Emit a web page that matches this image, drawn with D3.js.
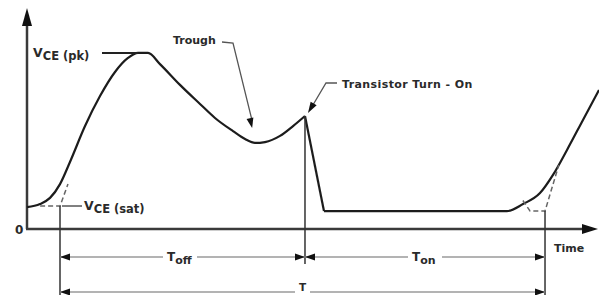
<!DOCTYPE html>
<html>
<head>
<meta charset="utf-8">
<script src="https://cdn.jsdelivr.net/npm/d3@7/dist/d3.min.js"></script>
<style>
  body { margin: 0; background: #fff; }
  svg text { font-family: "DejaVu Sans", sans-serif; fill: #2a2a2a; font-weight: bold; }
</style>
</head>
<body>
<div id="chart"></div>
<script>
// Switching waveform: V_CE versus time (time units 0..100, voltage units 0..100)

// turn-off phase: rise to peak, trough, up to turn-on
const offPhase = [
  [0, 10.0], [2.28, 11.4], [4.04, 14.2], [5.79, 20.5], [7.54, 30.6],
  [10.18, 47.0], [12.81, 60.7], [15.44, 71.7], [17.72, 78.1], [19.47, 80.4],
  [21.23, 80.4], [23.33, 75.3], [26.84, 65.8], [30.35, 57.1], [32.98, 50.7],
  [36.14, 44.7], [38.25, 41.1], [40.0, 39.3], [41.75, 39.7], [44.39, 42.5],
  [46.67, 47.0], [48.77, 51.6]
];
// sharp drop at transistor turn-on
const turnOnDrop = [[48.77, 51.6], [52.1, 8.2]];
// on phase (flat) and start of next turn-off
const onPhase = [
  [52.1, 8.2], [84.21, 8.2], [87.02, 11.4], [90.0, 16.4], [92.28, 24.7],
  [94.74, 36.1], [97.54, 49.8], [100.35, 63.5]
];
// dashed tangent construction lines
const tangentLeft = [[2.3, 10.5], [5.79, 10.5], [7.19, 20.5]];
const tangentRight = [[87.0, 13.0], [88.25, 8.2], [90.88, 8.2], [93.3, 29.2]];

const vPk = 80.4;
const vSat = 10.5;
const tOffStart = 5.79;
const tTurnOn = 48.77;
const tPeriodEnd = 90.88;

const width = 599, height = 295;
const svg = d3.select("#chart").append("svg")
  .attr("width", width).attr("height", height);

const x = d3.scaleLinear().domain([0, 100]).range([27, 597]);
const y = d3.scaleLinear().domain([0, 100]).range([229, 10]);

const axisColor = "#3a3a3a";
const dimColor = "#9a9a9a";

function arrowHead(g, tx, ty, angle, len, half, color) {
  // angle in degrees, direction the arrow points to
  g.append("path")
    .attr("d", `M0,0 L${-len},${-half} L${-len},${half} Z`)
    .attr("transform", `translate(${tx},${ty}) rotate(${angle})`)
    .attr("fill", color || "#111");
}

// axes
svg.append("line")
  .attr("x1", x(0)).attr("x2", x(0))
  .attr("y1", y(0)).attr("y2", 24)
  .attr("stroke", axisColor).attr("stroke-width", 2.5);
arrowHead(svg, x(0), 8, -90, 18, 5, "#111");

svg.append("line")
  .attr("x1", x(0) - 1).attr("x2", 586)
  .attr("y1", y(0)).attr("y2", y(0))
  .attr("stroke", axisColor).attr("stroke-width", 2.5);
arrowHead(svg, 598, y(0), 0, 16, 5, "#111");

svg.append("text")
  .attr("x", 15).attr("y", y(0) + 5)
  .attr("font-size", 12)
  .text("0");

svg.append("text")
  .attr("x", 554).attr("y", 252)
  .attr("font-size", 11)
  .text("Time");

// waveform
const smooth = d3.line().x(d => x(d[0])).y(d => y(d[1])).curve(d3.curveMonotoneX);
const straight = d3.line().x(d => x(d[0])).y(d => y(d[1]));

[[offPhase, smooth], [turnOnDrop, straight], [onPhase, smooth]].forEach(([pts, gen]) => {
  svg.append("path")
    .attr("d", gen(pts))
    .attr("fill", "none")
    .attr("stroke", "#1c1c1c")
    .attr("stroke-width", 2.2)
    .attr("stroke-linejoin", "round");
});

// dashed tangents
[tangentLeft, tangentRight].forEach(pts => {
  svg.append("path")
    .attr("d", straight(pts))
    .attr("fill", "none")
    .attr("stroke", "#666")
    .attr("stroke-width", 1.5)
    .attr("stroke-dasharray", "5,3");
});

// extension lines
const ext = [
  { t: tOffStart, v: vSat, bottom: 295 },
  { t: tTurnOn, v: turnOnDrop[0][1], bottom: 264 },
  { t: tPeriodEnd, v: onPhase[0][1], bottom: 295 }
];
ext.forEach(e => {
  svg.append("line")
    .attr("x1", x(e.t)).attr("x2", x(e.t))
    .attr("y1", y(e.v)).attr("y2", e.bottom)
    .attr("stroke", "#333").attr("stroke-width", 1.5);
});

// level labels with leaders
svg.append("line")
  .attr("x1", 102).attr("x2", x(19.47))
  .attr("y1", y(vPk)).attr("y2", y(vPk))
  .attr("stroke", "#222").attr("stroke-width", 2);

function vceLabel(tx, ty, suffix) {
  const t = svg.append("text").attr("x", tx).attr("y", ty).attr("font-size", 12.5);
  t.append("tspan").text("V");
  t.append("tspan").attr("dy", 3).attr("font-size", 11.5).text("CE " + suffix);
}
vceLabel(33, 57, "(pk)");

svg.append("line")
  .attr("x1", x(tOffStart) + 2).attr("x2", 82)
  .attr("y1", y(vSat)).attr("y2", y(vSat))
  .attr("stroke", "#555").attr("stroke-width", 1.5);
vceLabel(84, 210, "(sat)");

// Trough callout
svg.append("text")
  .attr("x", 173).attr("y", 44)
  .attr("font-size", 11)
  .text("Trough");
svg.append("path")
  .attr("d", `M222,42 L233,43 L${x(39.5)},${y(39.3) - 22}`)
  .attr("fill", "none").attr("stroke", "#555").attr("stroke-width", 1.3);
arrowHead(svg, x(39.5), y(39.3) - 15, Math.atan2(y(39.3) - 15 - 43, x(39.5) - 233) * 180 / Math.PI, 10, 3.5, "#111");

// Transistor turn-on callout
svg.append("text")
  .attr("x", 342).attr("y", 88)
  .attr("font-size", 11)
  .attr("letter-spacing", 0.4)
  .text("Transistor Turn - On");
svg.append("path")
  .attr("d", `M337,83 L326,83 L${x(tTurnOn) + 5},${y(51.6) - 6}`)
  .attr("fill", "none").attr("stroke", "#555").attr("stroke-width", 1.3);
arrowHead(svg, x(tTurnOn) + 3, y(51.6) - 3, Math.atan2(y(51.6) - 3 - 83, x(tTurnOn) + 3 - 326) * 180 / Math.PI, 11, 3.5, "#111");

// dimension lines
function dimension(t0, t1, yy, label, sub, labelX, labelY, fs) {
  const g = svg.append("g");
  const tw = sub ? 30 : 11;
  const lx = labelX;
  g.append("line").attr("x1", x(t0)).attr("x2", lx - 4).attr("y1", yy).attr("y2", yy)
    .attr("stroke", dimColor).attr("stroke-width", 1.5);
  g.append("line").attr("x1", lx + tw).attr("x2", x(t1)).attr("y1", yy).attr("y2", yy)
    .attr("stroke", dimColor).attr("stroke-width", 1.5);
  arrowHead(g, x(t0), yy, 180, 10, 3.5, "#111");
  arrowHead(g, x(t1), yy, 0, 10, 3.5, "#111");
  const tx = g.append("text").attr("x", lx).attr("y", labelY).attr("font-size", fs);
  tx.append("tspan").text(label);
  if (sub) tx.append("tspan").attr("dy", 3).attr("font-size", 11).text(sub);
}
dimension(tOffStart, tTurnOn, 257, "T", "off", 167, 261, 12);
dimension(tOffStart, tPeriodEnd, 292, "T", null, 299, 291, 10.5);
dimension(tTurnOn, tPeriodEnd, 257, "T", "on", 412, 261, 12);
</script>
</body>
</html>
